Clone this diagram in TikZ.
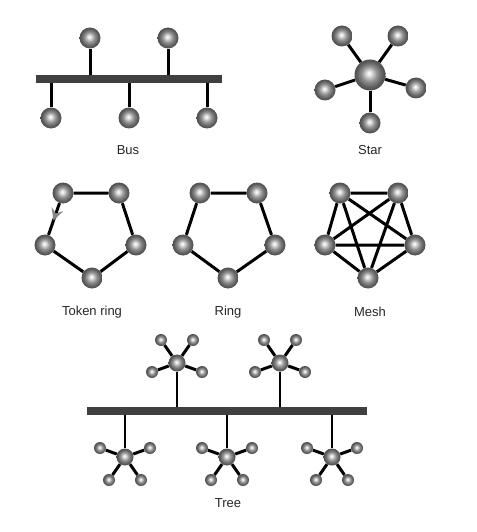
\documentclass[tikz,border=0pt]{standalone}
\usepackage{fontspec}
\setmainfont{Liberation Sans}
\usetikzlibrary{arrows.meta,decorations.markings,backgrounds}
\pgfdeclareradialshading{mysphere}{\pgfpoint{-2bp}{3bp}}{%
  color(0bp)=(white);
  color(3bp)=(white!85!gray);
  color(12bp)=(gray!85);
  color(20bp)=(gray!75!black);
  color(25bp)=(black!70);
  color(32bp)=(black!75)}
\newcommand\tstar[4]{%
  \node[thub]  (#1c) at (#2,#3) {};
  \node[tleaf] (#1a) at ({#2-25},{#3-9*#4}) {};
  \node[tleaf] (#1b) at ({#2+25},{#3-9*#4}) {};
  \node[tleaf] (#1d) at ({#2-16},{#3+23*#4}) {};
  \node[tleaf] (#1e) at ({#2+16},{#3+23*#4}) {};
  \begin{scope}[on background layer]
    \draw[link] (#1c) -- (#1a) (#1c) -- (#1b) (#1c) -- (#1d) (#1c) -- (#1e);
    \draw[stem] (#1c) -- (#1c |- treeL);
  \end{scope}}
\begin{document}
\begin{tikzpicture}[x=1pt,y=-1pt,
  sph/.style={circle,inner sep=0pt,minimum size=21pt,shading=mysphere},
  hub/.style={sph,minimum size=31pt},
  thub/.style={sph,minimum size=17pt},
  tleaf/.style={sph,minimum size=12pt},
  link/.style={line width=3pt,black},
  stem/.style={line width=2.6pt,black},
  busbar/.style={line width=8pt,black!75},
  lbl/.style={font=\fontsize{13}{15}\selectfont,text=black!85}]
\useasboundingbox (0,0) rectangle (476,532);

% ---------- Bus ----------
\coordinate (busL) at (36,79);
\coordinate (busR) at (222,79);
\node[sph] (bt1) at (90,38) {};
\node[sph] (bt2) at (168,38) {};
\node[sph] (bb1) at (51,118) {};
\node[sph] (bb2) at (129,118) {};
\node[sph] (bb3) at (207,118) {};
\begin{scope}[on background layer]
  \foreach \n in {bt1,bt2,bb1,bb2,bb3} \draw[link] (\n) -- (\n |- busL);
  \draw[busbar] (busL) -- (busR);
\end{scope}
\node[lbl] (lbus) at (128,150) {Bus};

% ---------- Star ----------
\node[hub] (sc) at (370,75) {};
\node[sph] (s1) at (342,36) {};
\node[sph] (s2) at (398,36) {};
\node[sph] (s3) at (325,90) {};
\node[sph] (s4) at (416,88) {};
\node[sph] (s5) at (370,123) {};
\begin{scope}[on background layer]
  \foreach \n in {s1,s2,s3,s4,s5} \draw[link] (sc) -- (\n);
\end{scope}
\node[lbl] (lstar) at (370,150) {Star};

% ---------- Token ring ----------
\node[sph] (k1) at (63,193) {};
\node[sph] (k2) at (119,193) {};
\node[sph] (k3) at (136,245) {};
\node[sph] (k4) at (92,278) {};
\node[sph] (k5) at (45,245) {};
\begin{scope}[on background layer]
  \draw[link] (k1) -- (k2) -- (k3) -- (k4) -- (k5);
  \draw[link,postaction={decorate},
    decoration={markings,mark=at position 0.55 with {\arrow[gray!95]{Stealth[length=12pt,width=12pt,inset=4.5pt]}}}]
    (k1) -- (k5);
\end{scope}
\node[lbl] (ltok) at (92,312) {Token ring};

% ---------- Ring ----------
\node[sph] (r1) at (200,193) {};
\node[sph] (r2) at (257,193) {};
\node[sph] (r3) at (275,245) {};
\node[sph] (r4) at (228,278) {};
\node[sph] (r5) at (183,245) {};
\begin{scope}[on background layer]
  \draw[link] (r1) -- (r2) -- (r3) -- (r4) -- (r5) -- (r1);
\end{scope}
\node[lbl] (lring) at (228,312) {Ring};

% ---------- Mesh ----------
\node[sph] (m1) at (340,193) {};
\node[sph] (m2) at (398,193) {};
\node[sph] (m3) at (415,245) {};
\node[sph] (m4) at (368,278) {};
\node[sph] (m5) at (325,245) {};
\begin{scope}[on background layer]
  \draw[link] (m1) -- (m2) (m1) -- (m3) (m1) -- (m4) (m1) -- (m5)
              (m2) -- (m3) (m2) -- (m4) (m2) -- (m5)
              (m3) -- (m4) (m3) -- (m5) (m4) -- (m5);
\end{scope}
\node[lbl] (lmesh) at (370,312) {Mesh};

% ---------- Tree ----------
\coordinate (treeL) at (87,411);
\coordinate (treeR) at (367,411);
\tstar{ta}{177}{363}{-1}
\tstar{tb}{280}{363}{-1}
\tstar{tc}{125}{457}{1}
\tstar{td}{227}{457}{1}
\tstar{te}{332}{457}{1}
\begin{scope}[on background layer]
  \draw[busbar] (treeL) -- (treeR);
\end{scope}
\node[lbl] (ltree) at (228,503) {Tree};
\end{tikzpicture}
\end{document}
